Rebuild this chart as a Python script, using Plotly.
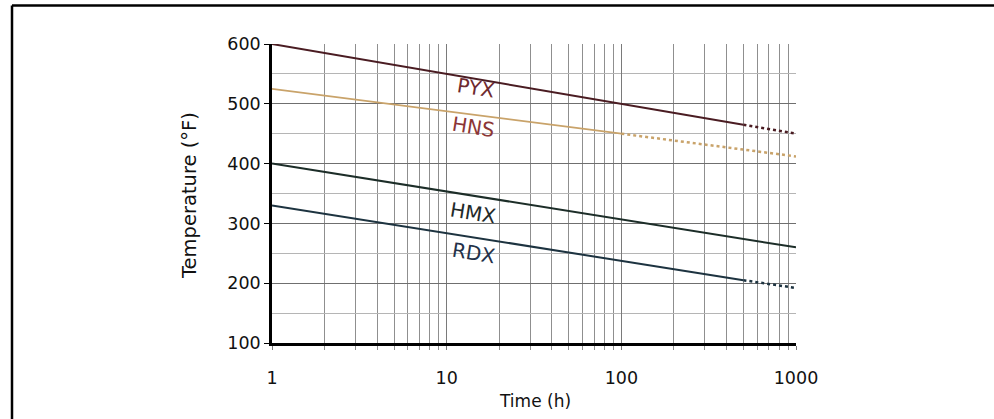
import math
import plotly.graph_objects as go

# ---- data ----
pyx_t = [1, 500, 1000]
pyx_T = [600, 465, 450]
hns_t = [1, 100, 1000]
hns_T = [525, 450, 412]
hmx_t = [1, 1000]
hmx_T = [400, 260]
rdx_t = [1, 500, 1000]
rdx_T = [330, 205, 192]

x_major = [1, 10, 100, 1000]
x_major_labels = ["1", "10", "100", "1000"]
x_minor = [m * d for d in (1, 10, 100) for m in range(2, 10)]
y_ticks = [100, 200, 300, 400, 500, 600]

labels = ["PYX", "HNS", "HMX", "RDX"]
label_t = [14.8, 14.2, 14.2, 14.2]
label_T = [526, 461, 317, 250]

W, H = 994, 419
L, R, T, B = 272, 198, 44, 76

fig = go.Figure()

def add_series(t, v, color, solid_upto, width=2):
    fig.add_trace(go.Scatter(x=t[:solid_upto + 1], y=v[:solid_upto + 1], mode="lines",
                             line=dict(color=color, width=width), showlegend=False, hoverinfo="skip"))
    if solid_upto < len(t) - 1:
        fig.add_trace(go.Scatter(x=t[solid_upto:], y=v[solid_upto:], mode="lines",
                                 line=dict(color=color, width=2.5, dash="dot"),
                                 showlegend=False, hoverinfo="skip"))

add_series(pyx_t, pyx_T, "#4a1c22", 1)
add_series(hns_t, hns_T, "#c9a36a", 1, 1.8)
add_series(hmx_t, hmx_T, "#1c2d28", 1)
add_series(rdx_t, rdx_T, "#1d3340", 1)

label_colors = ["#6e2a30", "#8c3636", "#1f2a2a", "#233149"]
for lab, lt, lv, c in zip(labels, label_t, label_T, label_colors):
    fig.add_annotation(x=math.log10(lt), y=lv, text=lab, showarrow=False,
                       textangle=9, font=dict(family="DejaVu Sans", size=20, color=c))

pw, ph = W - L - R, H - T - B
def px(xp): return (xp - L) / pw
def py(yp): return (H - B - yp) / ph

# axis titles
fig.add_annotation(xref="paper", yref="paper", x=px(535), y=py(401), xanchor="center", yanchor="middle",
                   text="Time (h)", showarrow=False,
                   font=dict(family="DejaVu Sans", size=17, color="#111"))
fig.add_annotation(xref="paper", yref="paper", x=px(189), y=py(196), xanchor="center", yanchor="middle",
                   text="Temperature (°F)", textangle=-90, showarrow=False,
                   font=dict(family="DejaVu Sans", size=19.5, color="#111"))

# outer frame (left and top edges)
fig.add_shape(type="line", xref="paper", yref="paper", x0=px(12), x1=px(994), y0=py(5.5), y1=py(5.5),
              line=dict(color="black", width=2.5))
fig.add_shape(type="line", xref="paper", yref="paper", x0=px(12), x1=px(12), y0=py(5.5), y1=py(425),
              line=dict(color="black", width=2.5))

fig.update_xaxes(type="log", range=[0, 3], tickvals=x_major, ticktext=x_major_labels,
                 showgrid=True, gridcolor="#7a7a7a", gridwidth=1,
                 ticks="outside", ticklen=4, tickcolor="#7a7a7a", ticklabelstandoff=13,
                 showline=True, linecolor="black", linewidth=2.5, zeroline=False,
                 tickfont=dict(family="DejaVu Sans", size=17.5, color="#111"),
                 minor=dict(tickvals=x_minor, showgrid=True, gridcolor="#8f8f8f", gridwidth=1,
                            ticks="outside", ticklen=4, tickcolor="#8f8f8f"))
fig.update_yaxes(range=[100, 600], tickvals=y_ticks, showgrid=True, gridcolor="#6f6f6f", gridwidth=1,
                 ticks="outside", ticklen=5, tickcolor="black",
                 showline=True, linecolor="black", linewidth=2.5, zeroline=False,
                 tickfont=dict(family="DejaVu Sans", size=17.5, color="#111"),
                 minor=dict(dtick=50, showgrid=True, gridcolor="#b5b5b5", gridwidth=1))

fig.update_layout(width=W, height=H, margin=dict(l=L, r=R, t=T, b=B),
                  plot_bgcolor="white", paper_bgcolor="white")

fig.write_html("out.html", config={"displayModeBar": False},
               post_script="document.body.style.margin='0px';"
                           "document.body.style.overflow='hidden';"
                           "document.documentElement.style.overflow='hidden';")
